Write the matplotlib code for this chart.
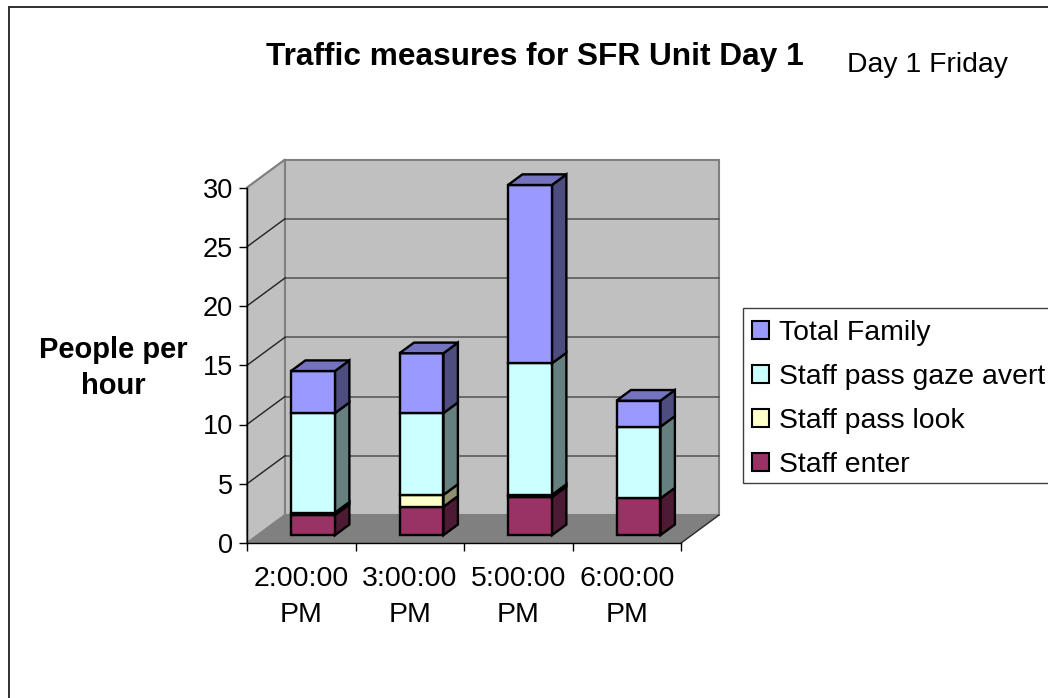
import matplotlib
matplotlib.use("Agg")
import matplotlib.pyplot as plt
from matplotlib.patches import Polygon, Patch, Rectangle
from matplotlib.lines import Line2D

plt.rcParams['font.family'] = ['Liberation Sans', 'DejaVu Sans']

# data
times = ["2:00:00\nPM", "3:00:00\nPM", "5:00:00\nPM", "6:00:00\nPM"]
staff_enter = [1.7, 2.4, 3.2, 3.1]
staff_look = [0.2, 1.0, 0.2, 0.0]
staff_gaze = [8.4, 6.9, 11.1, 6.05]
total_family = [3.55, 5.05, 15.05, 2.2]
yticks = [0, 5, 10, 15, 20, 25, 30]

series = [
    ("Staff enter", staff_enter, "#993366", "#4d1a33", "#73264d"),
    ("Staff pass look", staff_look, "#FFFFCC", "#8f8f70", "#bfbf99"),
    ("Staff pass gaze avert", staff_gaze, "#CCFFFF", "#668080", "#99bfbf"),
    ("Total Family", total_family, "#9999FF", "#4d4d80", "#7373bf"),
]

W, H = 1048, 698
# depth of the 3d box, in data units
DX = 38 / 108.5
DY = 28 / 11.85
D0, D1 = 0.28, 0.66
BAR_W = 0.405
BAR_SHIFT = 0.01


def proj(x, v, d):
    return (x + d * DX, v + d * DY)


fig = plt.figure(figsize=(W / 100, H / 100), dpi=100)
ax = fig.add_axes([247 / W, 1 - 543 / H, 434 / W, 355.5 / H])
ax.set_xlim(0, len(times))
ax.set_ylim(0, 30)
ax.patch.set_visible(False)


def face(pts, color, ec="black", lw=1.7, z=2):
    ax.add_patch(Polygon(pts, closed=True, fc=color, ec=ec, lw=lw, clip_on=False,
                         zorder=z, joinstyle="miter"))


# walls and floor
n = len(times)
face([proj(0, 0, 0), proj(n, 0, 0), proj(n, 0, 1), proj(0, 0, 1)], "#808080", ec="#808080", lw=1, z=1)
face([proj(0, 0, 0), proj(0, 30, 0), proj(0, 30, 1), proj(0, 0, 1)], "#C0C0C0", ec="#808080", lw=1.5, z=1)
face([proj(0, 0, 1), proj(0, 30, 1), proj(n, 30, 1), proj(n, 0, 1)], "#C0C0C0", ec="#808080", lw=1.5, z=1)

# gridlines
for v in yticks[1:]:
    a, b = proj(0, v, 0), proj(0, v, 1)
    c = proj(n, v, 1)
    if v < 30:
        ax.plot([b[0], c[0]], [b[1], c[1]], color="#5a5a5a", lw=1.2, clip_on=False, zorder=1.5)
    ax.plot([a[0], b[0]], [a[1], b[1]], color="#222222" if v < 30 else "#808080", lw=1, clip_on=False, zorder=1.5)
a, b = proj(n, 0, 0), proj(n, 0, 1)
ax.plot([a[0], b[0]], [a[1], b[1]], color="#303030", lw=1, clip_on=False, zorder=1.5)

# stacked bars
for i in range(n):
    left = i + 0.5 - BAR_W / 2 + BAR_SHIFT
    right = left + BAR_W
    base = 0
    for name, vals, col, side, top in series:
        v = vals[i]
        if v == 0:
            continue
        end = base + v
        face([proj(right, base, D0), proj(right, end, D0), proj(right, end, D1), proj(right, base, D1)], side)
        face([proj(left, base, D0), proj(right, base, D0), proj(right, end, D0), proj(left, end, D0)], col)
        base = end
        last_top = top
    face([proj(left, base, D0), proj(right, base, D0), proj(right, base, D1), proj(left, base, D1)], last_top)

# axes
for s in ["top", "right"]:
    ax.spines[s].set_visible(False)
for s in ["left", "bottom"]:
    ax.spines[s].set_linewidth(1)
    ax.spines[s].set_zorder(3)
ax.set_yticks(yticks)
ax.set_yticklabels([str(t) for t in yticks], fontsize=19.5)
ax.set_xticks(range(n + 1))
ax.set_xticklabels([])
ax.set_xticks([i + 0.5 for i in range(n)], minor=True)
ax.set_xticklabels(times, minor=True, fontsize=20.5, linespacing=1.52)
ax.tick_params(axis="x", which="major", length=6, width=1)
ax.tick_params(axis="x", which="minor", length=0, pad=16.5)
ax.tick_params(axis="y", length=6, width=1, pad=4)

# text
fig.text(535 / W, 1 - 57 / H, "Traffic measures for SFR Unit Day 1", fontsize=22.8, fontweight="bold",
         ha="center", va="center")
fig.text(847 / W, 1 - 65 / H, "Day 1 Friday", fontsize=20.4, ha="left", va="center")
fig.text(113 / W, 1 - 368 / H, "People per\nhour", fontsize=21, fontweight="bold",
         ha="center", va="center", linespacing=1.37)

# legend, box runs off the right side of the picture
fig.add_artist(Rectangle((743 / W, 1 - 483 / H), 320 / W, 175 / H, fc="white", ec="#404040", lw=1,
                         transform=fig.transFigure, zorder=1))
handles = [Patch(fc=s[2], ec="black", lw=1.5, label=s[0]) for s in reversed(series)]
leg = fig.legend(handles=handles, loc="upper left", bbox_to_anchor=(752 / W, 1 - 320 / H),
                 bbox_transform=fig.transFigure, fontsize=20.4, frameon=False, borderaxespad=0,
                 borderpad=0, handlelength=0.6, handleheight=0.6, handletextpad=0.35, labelspacing=0.64)

# outer chart border, only top and left show in the crop
fig.add_artist(Line2D([9 / W, 9 / W], [0, 1 - 7 / H], color="#303030", lw=1.4, transform=fig.transFigure))
fig.add_artist(Line2D([9 / W, 1], [1 - 7 / H, 1 - 7 / H], color="#303030", lw=1.4, transform=fig.transFigure))

fig.savefig("out.png", dpi=100)
